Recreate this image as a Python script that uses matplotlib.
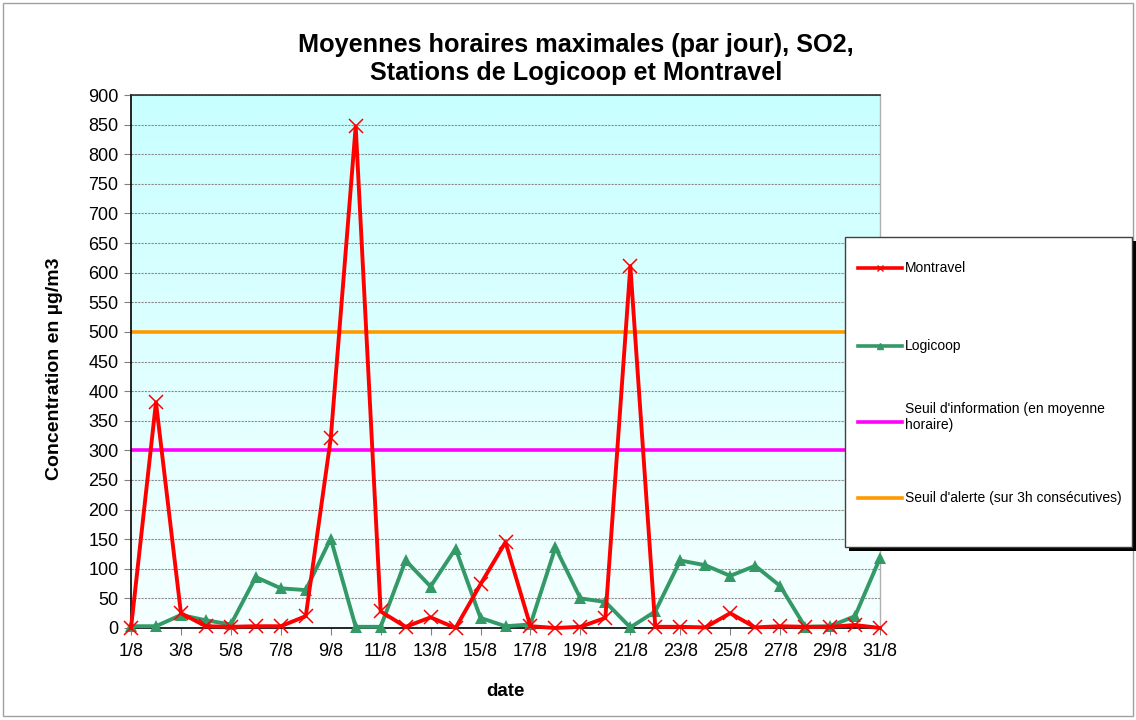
import numpy as np
import matplotlib
matplotlib.use("Agg")
import matplotlib.pyplot as plt
from matplotlib.lines import Line2D
from matplotlib.patches import Rectangle

plt.rcParams['font.family'] = ['Liberation Sans', 'DejaVu Sans']

days = list(range(1, 32))
tick_days = list(range(1, 32, 2))
tick_labels = [f"{d}/8" for d in tick_days]

montravel = [0, 381, 25, 3, 2, 3, 3, 20, 320, 847, 28, 2, 18, 0, 74, 145,
             3, 0, 2, 17, 611, 2, 2, 1, 25, 1, 3, 2, 2, 5, 0]
logicoop = [3, 3, 22, 13, 6, 86, 67, 64, 151, 2, 2, 114, 70, 134, 17, 3,
            6, 136, 50, 44, 1, 28, 114, 106, 88, 105, 71, 2, 3, 20, 118]
seuil_info = 300
seuil_alerte = 500

labels = ["Montravel", "Logicoop", "Seuil d'information (en moyenne\nhoraire)",
          "Seuil d'alerte (sur 3h consécutives)"]

W, H = 1136, 720
fig = plt.figure(figsize=(W / 100, H / 100), dpi=100)

def fx(px):
    return px / W

def fy(py):
    return 1 - py / H

# outer border
fig.patches.append(Rectangle((fx(3), fy(716)), fx(1130), (713) / H, transform=fig.transFigure,
                             fill=False, edgecolor='#A0A0A0', lw=1))

ax = fig.add_axes([fx(131), fy(628), fx(880 - 131), (628 - 95) / H])

# gradient background
grad = np.linspace(0, 1, 256).reshape(-1, 1)
top = np.array([200, 255, 255]) / 255
bot = np.array([246, 255, 255]) / 255
img = top[None, None, :] * (1 - grad[:, :, None]) + bot[None, None, :] * grad[:, :, None]
ax.imshow(img, extent=[0, 1, 0, 1], transform=ax.transAxes, aspect='auto', zorder=0)

ax.set_xlim(1, 31)
ax.set_ylim(0, 900)
ax.set_yticks(range(0, 901, 50))
ax.set_xticks(tick_days)
ax.set_xticklabels(tick_labels)
ax.yaxis.grid(True, color='#8C8C8C', lw=0.8, ls=(0, (2, 1)), zorder=1)
ax.set_axisbelow(True)

ax.axhline(seuil_info, color='#FF00FF', lw=2.6, zorder=2)
ax.axhline(seuil_alerte, color='#FF9900', lw=2.6, zorder=2)

ax.plot(days, logicoop, color='#339966', lw=2.8, marker='^', markersize=8.5,
        markeredgewidth=0, zorder=3, clip_on=False)
ax.plot(days, montravel, color='#FF0000', lw=2.8, marker='x', markersize=10,
        markeredgewidth=1.1, zorder=4, clip_on=False)

ax.tick_params(axis='both', labelsize=13, direction='out', length=5, width=0.8,
               color='#808080', pad=4)
ax.tick_params(axis='x', pad=6)
for s in ['left', 'bottom']:
    ax.spines[s].set_color('black')
    ax.spines[s].set_linewidth(1.2)
ax.spines['top'].set_color('#303030')
ax.spines['top'].set_linewidth(1.2)
ax.spines['right'].set_color('#B0B0B0')
ax.spines['right'].set_linewidth(1.0)

fig.text(fx(55), fy(369), "Concentration en µg/m3", fontsize=14, fontweight='bold',
         rotation=90, ha='center', va='center')
fig.text(fx(505), fy(692), "date", fontsize=13.5, fontweight='bold', ha='center', va='center')

fig.text(fx(576), fy(45), "Moyennes horaires maximales (par jour), SO2,", fontsize=18.2,
         fontweight='bold', ha='center', va='center')
fig.text(fx(576), fy(73), "Stations de Logicoop et Montravel", fontsize=18.2,
         fontweight='bold', ha='center', va='center')

# legend (manual)
lx0, ly0, lx1, ly1 = 845, 237, 1132, 547
fig.patches.append(Rectangle((fx(lx0 + 4), fy(ly1 + 4)), fx(lx1 - lx0), (ly1 - ly0) / H,
                             transform=fig.transFigure, facecolor='black', edgecolor='none', zorder=5))
fig.patches.append(Rectangle((fx(lx0), fy(ly1)), fx(lx1 - lx0), (ly1 - ly0) / H,
                             transform=fig.transFigure, facecolor='white', edgecolor='#404040',
                             lw=1, zorder=6))
entries = [
    (268, '#FF0000', 'x', 4),
    (346, '#339966', '^', 4),
    (422, '#FF00FF', None, 0),
    (498, '#FF9900', None, 0),
]
for (yy, col, mk, ms), lab in zip(entries, labels):
    fig.lines.append(Line2D([fx(858), fx(902)], [fy(yy), fy(yy)], transform=fig.transFigure,
                            color=col, lw=2.6, zorder=7))
    if mk:
        fig.lines.append(Line2D([fx(880)], [fy(yy)], transform=fig.transFigure, color=col,
                                marker=mk, markersize=ms, markeredgewidth=1, lw=0, zorder=8))
    if '\n' in lab:
        fig.text(fx(905), fy(yy - 5), lab, fontsize=10, ha='left', va='center', zorder=8,
                 linespacing=1.15)
    else:
        fig.text(fx(905), fy(yy), lab, fontsize=10, ha='left', va='center', zorder=8)

fig.savefig("out.png", dpi=100)
